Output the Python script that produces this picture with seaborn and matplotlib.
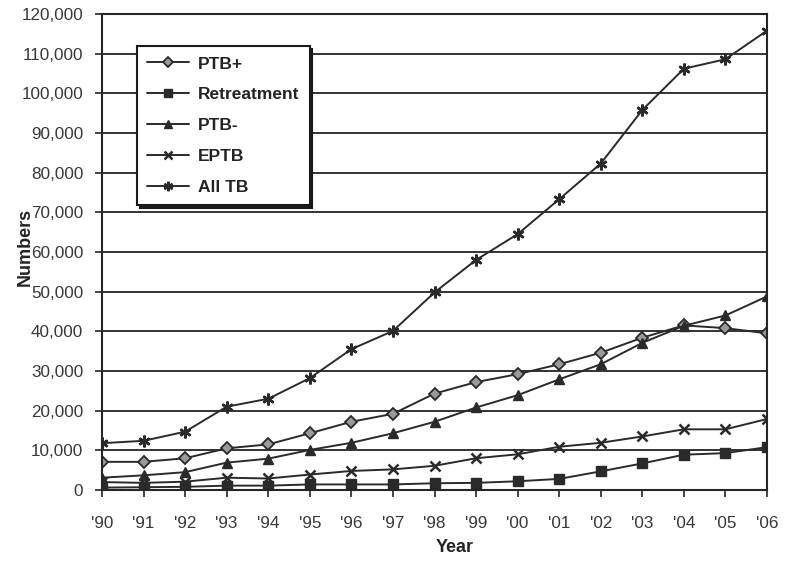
import matplotlib
matplotlib.use("Agg")
import matplotlib.pyplot as plt
import seaborn as sns
import numpy as np
import pandas as pd

# ---- data ----
years = ["'90", "'91", "'92", "'93", "'94", "'95", "'96", "'97", "'98",
         "'99", "'00", "'01", "'02", "'03", "'04", "'05", "'06"]
ptb_pos = [7100, 7100, 8000, 10500, 11500, 14300, 17200, 19200, 24300,
           27200, 29200, 31700, 34600, 38400, 41500, 40800, 39500]
retreatment = [600, 700, 800, 1100, 1100, 1400, 1400, 1400, 1700,
               1800, 2200, 2800, 4700, 6700, 8900, 9300, 10800]
ptb_neg = [3100, 3700, 4500, 6900, 7900, 10100, 11900, 14300, 17200,
           20800, 23900, 27900, 31700, 37100, 41400, 44000, 48800]
eptb = [2000, 1800, 2100, 3100, 2900, 3900, 4800, 5200, 6100,
        8000, 9000, 10900, 11900, 13500, 15300, 15300, 17900]
all_tb = [11800, 12400, 14700, 21000, 23000, 28200, 35500, 40100, 49800,
          58000, 64500, 73300, 82300, 95800, 106200, 108600, 115800]
series_names = ["PTB+", "Retreatment", "PTB-", "EPTB", "All TB"]
y_ticks = [0, 10000, 20000, 30000, 40000, 50000, 60000, 70000, 80000,
           90000, 100000, 110000, 120000]
y_tick_labels = ["0", "10,000", "20,000", "30,000", "40,000", "50,000",
                 "60,000", "70,000", "80,000", "90,000", "100,000",
                 "110,000", "120,000"]

values = [ptb_pos, retreatment, ptb_neg, eptb, all_tb]
rows = []
for name, vals in zip(series_names, values):
    for i, v in enumerate(vals):
        rows.append({"idx": i, "Year": years[i], "Numbers": v, "Series": name})
df = pd.DataFrame(rows)

# ---- style ----
sns.set_style("white")
plt.rcParams["font.family"] = ["Liberation Sans", "DejaVu Sans"]

fig = plt.figure(figsize=(7.86, 5.61), dpi=100)
ax = fig.add_axes([102/786, 1-490/561, (767-102)/786, (490-14)/561])

line_col = "#2a2a2a"
styles = {
    "PTB+": dict(marker="D", markersize=6.5, markerfacecolor="#9a9a9a",
                 markeredgecolor=line_col, markeredgewidth=1.3),
    "Retreatment": dict(marker="s", markersize=7.0, markerfacecolor=line_col,
                        markeredgecolor=line_col, markeredgewidth=1.0),
    "PTB-": dict(marker="^", markersize=7.5, markerfacecolor=line_col,
                 markeredgecolor=line_col, markeredgewidth=1.0),
    "EPTB": dict(marker="x", markersize=7.0, markeredgecolor=line_col,
                 markeredgewidth=1.8),
    "All TB": dict(marker=(6, 2, 0), markersize=8.5, markeredgecolor=line_col,
                   markeredgewidth=1.8),
}

for name in series_names:
    sub = df[df["Series"] == name]
    sns.lineplot(data=sub, x="idx", y="Numbers", ax=ax, color=line_col,
                 linewidth=1.4, label=name, **styles[name])

ax.set_xlim(0, 16)
ax.set_ylim(0, 120000)
ax.set_xticks(range(len(years)))
ax.set_xticklabels(years)
ax.set_yticks(y_ticks)
ax.set_yticklabels(y_tick_labels)

ax.yaxis.grid(True, color="#333333", linewidth=1.4)
ax.set_axisbelow(True)
for sp in ax.spines.values():
    sp.set_visible(True)
    sp.set_color("#262626")
    sp.set_linewidth(1.5)

ax.tick_params(axis="both", which="major", direction="out", length=5,
               width=1.2, color="#262626", labelsize=12.3, labelcolor="#383838")
ax.tick_params(axis="y", pad=8.5, left=True)
ax.tick_params(axis="x", pad=14, bottom=True)

ax.set_xlabel("Year", fontsize=13, fontweight="bold", color="#232323")
ax.set_ylabel("Numbers", fontsize=13, fontweight="bold", color="#232323")
ax.xaxis.set_label_coords((455-102)/665, -(548-490)/476)
ax.yaxis.set_label_coords((25-102)/665, 0.51)
ax.yaxis.label.set_verticalalignment("center")
ax.xaxis.label.set_verticalalignment("center")

leg = ax.legend(loc="upper left", bbox_to_anchor=((137-102)/665, (490-46)/476),
                borderaxespad=0, frameon=True, fancybox=False,
                shadow={"color": "#1a1a1a", "alpha": 1.0},
                prop={"weight": "bold", "size": 12.5},
                handlelength=2.4, handletextpad=0.5, labelspacing=0.9,
                borderpad=0.6, markerscale=0.8)
leg.get_frame().set_edgecolor("#1a1a1a")
leg.get_frame().set_linewidth(1.5)
leg.get_frame().set_facecolor("white")
for t in leg.get_texts():
    t.set_color("#232323")

fig.savefig("out.png", dpi=100)
